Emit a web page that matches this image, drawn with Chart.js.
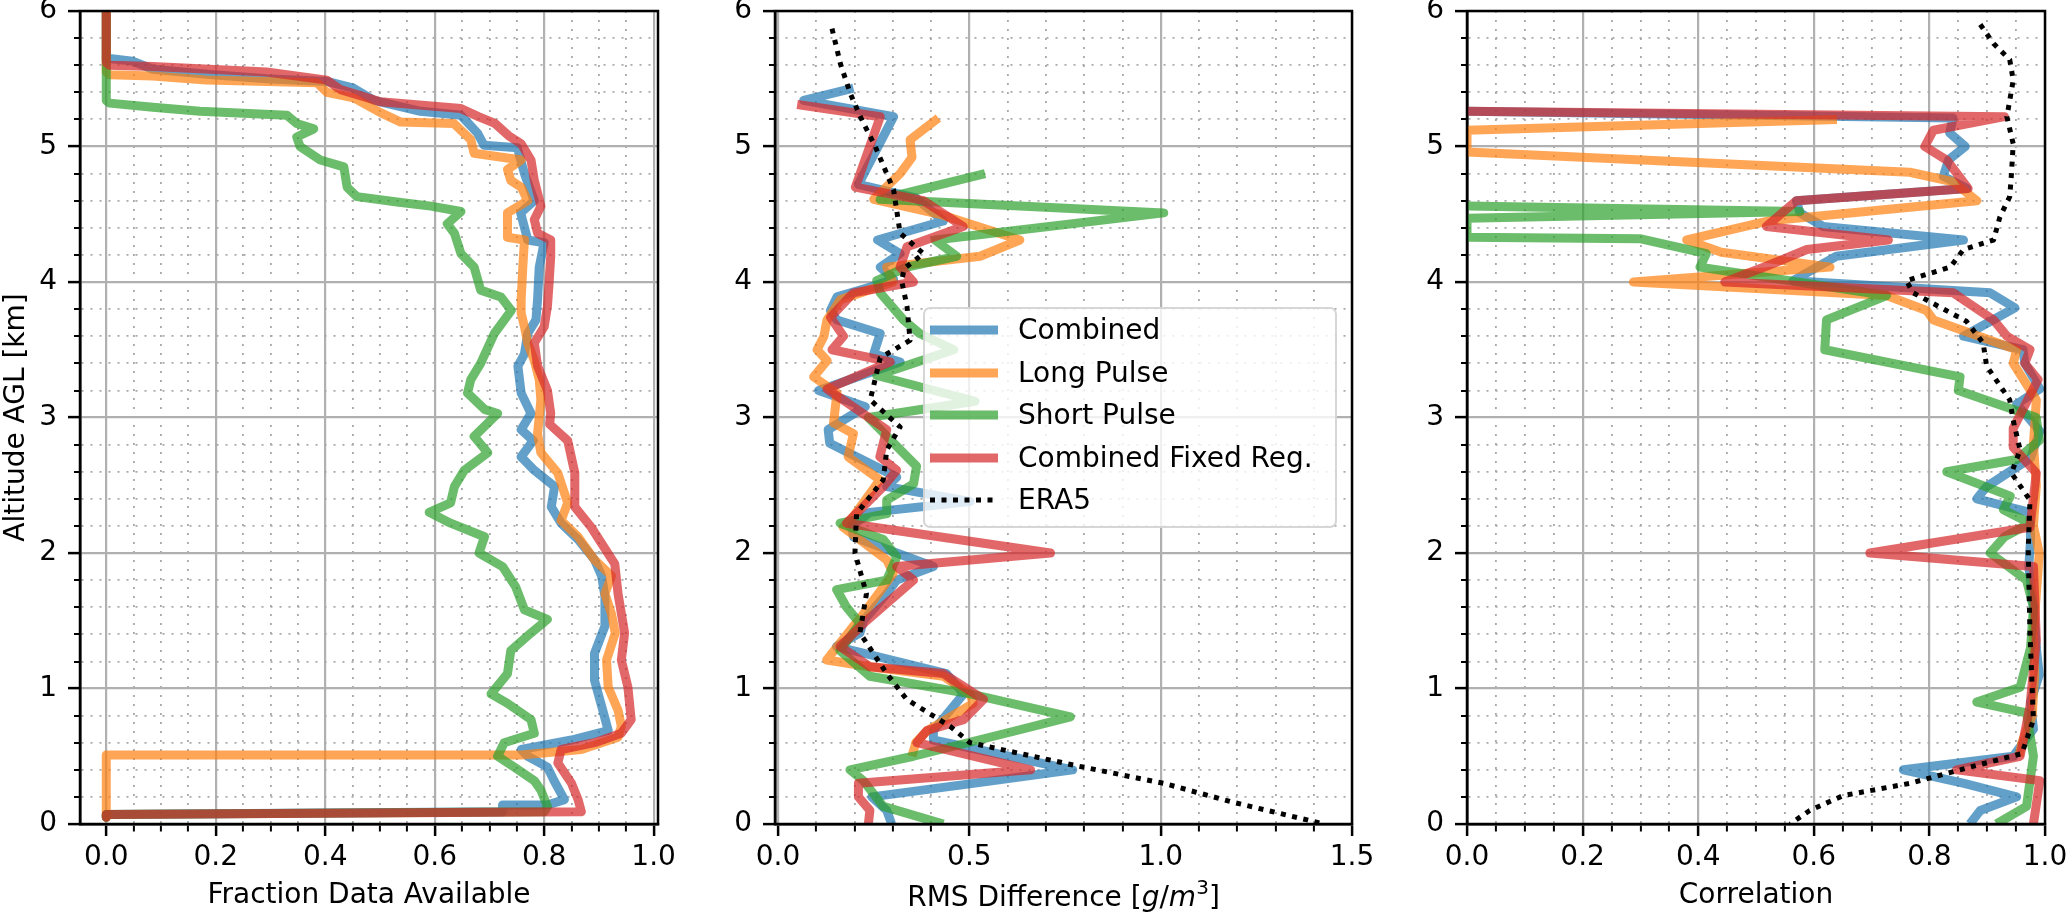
<!DOCTYPE html>
<html>
<head>
<meta charset="utf-8">
<script src="https://cdn.jsdelivr.net/npm/chart.js@4.4.1/dist/chart.umd.min.js"></script>
<style>
  body { margin: 0; background: #fff; font-family: "DejaVu Sans", sans-serif; }
  #page { position: relative; width: 2067px; height: 917px; overflow: hidden; }
  canvas { position: absolute; top: 0; }
  .legend-box { position: absolute; left: 923px; top: 307px; width: 414px; height: 221px; box-sizing: border-box;
                border: 2px solid rgba(204,204,204,0.8); border-radius: 7px; background: rgba(255,255,255,0.8); }
  .legend-item { position: absolute; left: 930px; width: 400px; height: 32px; font-size: 28px; line-height: 32px; color: #000; white-space: nowrap; }
  .legend-item svg { position: absolute; left: 0; top: 11px; }
  .legend-item span { position: absolute; left: 88px; top: 0; }
  .xlabel { position: absolute; top: 881px; text-align: center; font-size: 28px; line-height: 32px; color: #000; white-space: nowrap; }
</style>
</head>
<body>
<div id="page">
  <canvas id="fracChart" width="700" height="917" style="left:0"></canvas>
  <canvas id="rmsChart" width="700" height="917" style="left:700px"></canvas>
  <canvas id="corrChart" width="667" height="917" style="left:1400px"></canvas>
  <div class="xlabel" style="left:775px;width:577px">RMS Difference [<i>g</i>/<i>m</i><span style="font-size:20px;vertical-align:12px;line-height:0">3</span>]</div>
  <div class="legend-box"></div>
  <div id="legend"></div>
</div>
<script>
// tick labels
const altTicks = [0, 1, 2, 3, 4, 5, 6];
const fracTicks = [0.0, 0.2, 0.4, 0.6, 0.8, 1.0];
const rmsTicks = [0.0, 0.5, 1.0, 1.5];
const corrTicks = [0.0, 0.2, 0.4, 0.6, 0.8, 1.0];

const seriesNames = ['Combined', 'Long Pulse', 'Short Pulse', 'Combined Fixed Reg.', 'ERA5'];
const seriesColors = ['rgba(31,119,180,0.7)', 'rgba(255,127,14,0.7)', 'rgba(44,160,44,0.7)', 'rgba(214,39,40,0.7)', '#000'];

// Panel 1: fraction of data available
const fracAltCombined = [6.0, 5.65, 5.65, 5.63, 5.57, 5.53, 5.50, 5.48, 5.43, 5.34, 5.26, 5.23, 5.10, 5.01, 4.99, 4.80, 4.60, 4.51, 4.31, 4.29, 4.11, 3.87, 3.72, 3.62, 3.47, 3.38, 3.18, 3.03, 2.91, 2.83, 2.71, 2.61, 2.49, 2.34, 2.22, 2.10, 1.95, 1.83, 1.68, 1.46, 1.26, 1.06, 0.84, 0.69, 0.62, 0.55, 0.50, 0.42, 0.32, 0.18, 0.14, 0.14, 0.09, 0.07, 0.05];
const fracCombined = [0.0, 0.0, 0.006, 0.048, 0.085, 0.195, 0.293, 0.403, 0.452, 0.489, 0.574, 0.648, 0.678, 0.69, 0.751, 0.764, 0.782, 0.757, 0.77, 0.80, 0.791, 0.788, 0.785, 0.77, 0.764, 0.752, 0.758, 0.776, 0.758, 0.78, 0.758, 0.782, 0.819, 0.813, 0.831, 0.862, 0.892, 0.905, 0.911, 0.911, 0.892, 0.892, 0.907, 0.917, 0.85, 0.758, 0.77, 0.806, 0.818, 0.837, 0.806, 0.724, 0.724, 0.0, 0.0];
const fracAltLong = [6.0, 5.55, 5.53, 5.52, 5.49, 5.47, 5.40, 5.36, 5.25, 5.18, 5.17, 5.05, 4.95, 4.90, 4.83, 4.75, 4.70, 4.60, 4.51, 4.33, 4.31, 4.11, 3.87, 3.77, 3.67, 3.55, 3.42, 3.28, 3.13, 2.88, 2.74, 2.59, 2.37, 2.24, 2.12, 1.95, 1.83, 1.70, 1.55, 1.41, 1.21, 1.01, 0.84, 0.72, 0.64, 0.55, 0.51, 0.51, 0.07, 0.05];
const fracLong = [0.0, 0.0, 0.006, 0.085, 0.183, 0.385, 0.403, 0.452, 0.501, 0.538, 0.635, 0.666, 0.672, 0.758, 0.733, 0.739, 0.758, 0.77, 0.733, 0.733, 0.764, 0.761, 0.758, 0.758, 0.764, 0.77, 0.782, 0.791, 0.794, 0.788, 0.794, 0.825, 0.843, 0.831, 0.862, 0.892, 0.923, 0.911, 0.923, 0.93, 0.914, 0.917, 0.935, 0.941, 0.935, 0.868, 0.758, 0.0, 0.0, 0.0];
const fracAltShort = [6.0, 5.34, 5.32, 5.29, 5.26, 5.23, 5.17, 5.13, 5.07, 5.00, 4.90, 4.85, 4.70, 4.63, 4.59, 4.56, 4.52, 4.43, 4.36, 4.21, 4.11, 3.94, 3.89, 3.79, 3.62, 3.40, 3.28, 3.18, 3.06, 3.03, 2.86, 2.74, 2.61, 2.49, 2.37, 2.30, 2.22, 2.12, 2.00, 1.90, 1.75, 1.58, 1.51, 1.41, 1.28, 1.11, 0.96, 0.89, 0.77, 0.67, 0.60, 0.50, 0.42, 0.32, 0.25, 0.13, 0.09, 0.07, 0.05];
const fracShort = [0.0, 0.0, 0.006, 0.085, 0.171, 0.33, 0.348, 0.379, 0.348, 0.354, 0.391, 0.434, 0.44, 0.458, 0.531, 0.593, 0.648, 0.623, 0.636, 0.648, 0.672, 0.684, 0.721, 0.74, 0.709, 0.684, 0.666, 0.66, 0.691, 0.715, 0.672, 0.697, 0.654, 0.636, 0.629, 0.59, 0.629, 0.691, 0.681, 0.724, 0.748, 0.764, 0.806, 0.776, 0.739, 0.733, 0.703, 0.733, 0.776, 0.782, 0.727, 0.715, 0.745, 0.782, 0.794, 0.806, 0.80, 0.0, 0.0];
const fracAltFixed = [6.0, 5.62, 5.60, 5.59, 5.55, 5.49, 5.42, 5.33, 5.28, 5.22, 5.17, 5.08, 5.02, 4.90, 4.75, 4.56, 4.46, 4.36, 4.31, 4.19, 3.99, 3.82, 3.67, 3.55, 3.38, 3.20, 3.03, 2.95, 2.83, 2.59, 2.34, 2.19, 2.07, 1.92, 1.70, 1.41, 1.21, 1.01, 0.77, 0.67, 0.60, 0.55, 0.45, 0.30, 0.18, 0.09, 0.07, 0.05];
const fracFixed = [0.0, 0.0, 0.006, 0.085, 0.293, 0.403, 0.428, 0.501, 0.648, 0.68, 0.71, 0.735, 0.758, 0.776, 0.782, 0.794, 0.782, 0.788, 0.812, 0.812, 0.809, 0.806, 0.80, 0.782, 0.788, 0.806, 0.812, 0.81, 0.843, 0.856, 0.856, 0.886, 0.905, 0.929, 0.935, 0.947, 0.941, 0.953, 0.959, 0.941, 0.892, 0.831, 0.825, 0.85, 0.862, 0.868, 0.0, 0.0];

// Panel 2: RMS difference (g/m3)
const rmsAltCombined = [5.43, 5.34, 5.22, 4.72, 4.62, 4.45, 4.31, 4.21, 4.11, 4.02, 3.97, 3.89, 3.79, 3.72, 3.62, 3.47, 3.41, 3.20, 3.08, 2.91, 2.81, 2.56, 2.49, 2.38, 2.30, 2.20, 2.12, 2.00, 1.90, 1.80, 1.70, 1.50, 1.41, 1.31, 1.11, 0.96, 0.69, 0.62, 0.40, 0.30, 0.20, 0.10, 0.0];
const rmsCombined = [0.197, 0.067, 0.302, 0.21, 0.36, 0.432, 0.26, 0.319, 0.267, 0.302, 0.25, 0.154, 0.137, 0.154, 0.267, 0.25, 0.319, 0.106, 0.228, 0.131, 0.135, 0.31, 0.284, 0.502, 0.24, 0.192, 0.197, 0.31, 0.406, 0.31, 0.284, 0.223, 0.214, 0.153, 0.44, 0.485, 0.406, 0.406, 0.77, 0.51, 0.245, 0.284, 0.297];
const rmsAltLong = [5.21, 5.05, 4.92, 4.80, 4.61, 4.50, 4.31, 4.19, 4.11, 4.00, 3.87, 3.72, 3.60, 3.50, 3.42, 3.30, 3.18, 2.96, 2.88, 2.71, 2.54, 2.27, 2.19, 1.95, 1.85, 1.55, 1.46, 1.21, 1.16, 1.09, 0.96, 0.89, 0.69, 0.60, 0.50];
const rmsLong = [0.419, 0.345, 0.35, 0.319, 0.25, 0.423, 0.632, 0.528, 0.284, 0.30, 0.163, 0.128, 0.12, 0.102, 0.128, 0.093, 0.154, 0.145, 0.197, 0.183, 0.266, 0.197, 0.17, 0.284, 0.301, 0.223, 0.197, 0.127, 0.24, 0.432, 0.502, 0.51, 0.39, 0.36, 0.35];
const rmsAltShort = [4.80, 4.61, 4.51, 4.31, 4.19, 4.11, 4.01, 3.92, 3.72, 3.62, 3.50, 3.31, 3.12, 3.00, 2.74, 2.64, 2.51, 2.39, 2.29, 2.22, 2.10, 1.97, 1.80, 1.73, 1.60, 1.48, 1.28, 1.09, 0.96, 0.79, 0.69, 0.50, 0.40, 0.32, 0.13, 0.0];
const rmsShort = [0.541, 0.267, 1.008, 0.41, 0.467, 0.337, 0.258, 0.267, 0.328, 0.37, 0.459, 0.258, 0.515, 0.236, 0.327, 0.362, 0.354, 0.284, 0.284, 0.162, 0.275, 0.31, 0.284, 0.153, 0.179, 0.214, 0.162, 0.24, 0.502, 0.764, 0.624, 0.354, 0.188, 0.223, 0.275, 0.432];
const rmsAltFixed = [5.31, 5.22, 4.70, 4.60, 4.41, 4.26, 4.11, 4.00, 3.92, 3.74, 3.60, 3.50, 3.41, 3.21, 2.91, 2.71, 2.61, 2.49, 2.22, 2.00, 1.90, 1.80, 1.50, 1.31, 1.16, 1.11, 0.92, 0.77, 0.69, 0.60, 0.40, 0.30, 0.20, 0.10, 0.0];
const rmsFixed = [0.05, 0.267, 0.202, 0.38, 0.484, 0.337, 0.319, 0.354, 0.197, 0.137, 0.171, 0.141, 0.293, 0.128, 0.284, 0.266, 0.31, 0.275, 0.179, 0.712, 0.31, 0.354, 0.231, 0.162, 0.24, 0.432, 0.537, 0.485, 0.389, 0.363, 0.66, 0.21, 0.21, 0.24, 0.236];
const rmsAltEra = [5.87, 5.61, 5.39, 5.22, 5.00, 4.80, 4.68, 4.36, 4.21, 4.10, 4.01, 3.82, 3.57, 3.44, 3.13, 2.93, 2.76, 2.54, 2.29, 2.00, 1.70, 1.41, 1.11, 0.92, 0.72, 0.60, 0.43, 0.30, 0.16, 0.0];
const rmsEra = [0.141, 0.163, 0.189, 0.215, 0.254, 0.284, 0.302, 0.319, 0.38, 0.33, 0.323, 0.337, 0.345, 0.267, 0.241, 0.319, 0.284, 0.275, 0.205, 0.201, 0.231, 0.214, 0.284, 0.336, 0.45, 0.502, 0.78, 1.008, 1.19, 1.427];

// Panel 3: correlation
const corrAltCombined = [5.26, 5.21, 5.10, 5.00, 4.90, 4.78, 4.69, 4.60, 4.51, 4.41, 4.31, 4.19, 4.01, 3.92, 3.81, 3.60, 3.50, 3.40, 3.21, 3.10, 2.90, 2.70, 2.49, 2.40, 2.30, 2.10, 1.90, 1.60, 1.30, 1.10, 0.90, 0.70, 0.50, 0.40, 0.30, 0.20, 0.10, 0.0];
const corrCombined = [0.0, 0.841, 0.835, 0.862, 0.833, 0.824, 0.865, 0.57, 0.576, 0.616, 0.859, 0.639, 0.564, 0.905, 0.948, 0.859, 0.962, 0.965, 0.991, 0.951, 0.991, 0.975, 0.899, 0.882, 0.974, 0.975, 0.972, 0.98, 0.985, 0.99, 0.975, 0.98, 0.945, 0.755, 0.86, 0.951, 0.888, 0.87];
const corrAltLong = [5.20, 5.12, 4.96, 4.81, 4.74, 4.60, 4.45, 4.31, 4.22, 4.11, 4.00, 3.90, 3.79, 3.72, 3.50, 3.40, 3.13, 2.80, 2.50, 2.20, 2.00, 1.70, 1.40, 1.10, 0.80, 0.60, 0.50];
const corrLong = [0.64, 0.0, 0.0, 0.766, 0.841, 0.882, 0.52, 0.38, 0.44, 0.628, 0.288, 0.726, 0.795, 0.807, 0.951, 0.945, 0.985, 0.98, 0.985, 0.98, 0.99, 0.985, 0.98, 0.982, 0.978, 0.96, 0.955];
const corrAltShort = [4.56, 4.52, 4.47, 4.33, 4.32, 4.21, 4.11, 3.90, 3.72, 3.50, 3.30, 3.20, 3.00, 2.83, 2.69, 2.60, 2.42, 2.32, 2.22, 2.12, 2.00, 1.80, 1.60, 1.30, 1.01, 0.90, 0.82, 0.50, 0.13, 0.0];
const corrShort = [0.0, 0.576, 0.0, 0.0, 0.299, 0.414, 0.403, 0.726, 0.622, 0.619, 0.853, 0.85, 0.985, 0.99, 0.951, 0.83, 0.94, 0.928, 0.974, 0.93, 0.905, 0.968, 0.98, 0.975, 0.957, 0.882, 0.968, 0.98, 0.968, 0.916];
const corrAltFixed = [5.26, 5.22, 5.12, 5.00, 4.90, 4.69, 4.60, 4.41, 4.31, 4.24, 4.12, 4.00, 3.92, 3.72, 3.60, 3.50, 3.40, 3.28, 2.92, 2.78, 2.59, 2.19, 2.00, 1.90, 1.36, 0.87, 0.50, 0.40, 0.32, 0.0];
const corrFixed = [0.0, 0.93, 0.807, 0.792, 0.83, 0.867, 0.57, 0.518, 0.729, 0.588, 0.52, 0.446, 0.841, 0.911, 0.934, 0.974, 0.965, 0.988, 0.945, 0.945, 0.985, 0.974, 0.697, 0.98, 0.985, 0.974, 0.957, 0.847, 0.991, 0.98];
const corrAltEra = [5.90, 5.76, 5.64, 5.49, 5.34, 5.22, 5.02, 4.80, 4.63, 4.48, 4.31, 4.24, 4.11, 4.01, 3.92, 3.71, 3.55, 3.38, 3.13, 2.98, 2.76, 2.59, 2.39, 2.02, 1.41, 0.77, 0.52, 0.40, 0.30, 0.21, 0.10, 0.0];
const corrEra = [0.888, 0.911, 0.939, 0.945, 0.939, 0.934, 0.945, 0.942, 0.939, 0.922, 0.911, 0.859, 0.836, 0.76, 0.772, 0.864, 0.893, 0.899, 0.939, 0.945, 0.957, 0.942, 0.974, 0.971, 0.974, 0.98, 0.96, 0.853, 0.766, 0.651, 0.593, 0.559];

const FONT = 'DejaVu Sans';

function profile(vals, alts) {
    return vals.map(function (v, i) { return {x: v, y: alts[i]}; });
}

// majors plus evenly spaced minor ticks between them
function withMinors(majors, parts) {
    const out = [];
    for (let i = 0; i < majors.length - 1; i++) {
        const step = (majors[i + 1] - majors[i]) / parts;
        for (let k = 0; k < parts; k++) out.push(+(majors[i] + k * step).toFixed(6));
    }
    out.push(majors[majors.length - 1]);
    return out;
}

function axisOptions(isX, majors, parts, min, max, fit, title, digits) {
    const all = withMinors(majors, parts);
    const isMajor = function (v) { return majors.some(function (m) { return Math.abs(m - v) < 1e-6; }); };
    const onMajor = function (c) { return c.tick && isMajor(c.tick.value); };
    return {
        type: 'linear',
        position: isX ? 'bottom' : 'left',
        min: min,
        max: max,
        bounds: 'data',
        afterBuildTicks: function (s) { s.ticks = all.map(function (v) { return {value: v}; }); },
        afterFit: function (s) {
            if (isX) { s.height = fit; s.paddingLeft = 0; s.paddingRight = 0; }
            else { s.width = fit; s.paddingTop = 0; s.paddingBottom = 0; }
        },
        ticks: {
            autoSkip: false,
            maxRotation: 0,
            minRotation: 0,
            padding: isX ? 5 : 11,
            color: '#000',
            font: {family: FONT, size: 28},
            callback: function (v) { return isMajor(v) ? Number(v).toFixed(digits) : ''; }
        },
        grid: {
            color: function (c) { return onMajor(c) ? '#b0b0b0' : '#a8a8a8'; },
            lineWidth: function (c) { return onMajor(c) ? 2.2 : 1.8; },
            tickColor: '#000',
            tickWidth: function (c) { return onMajor(c) ? 2.5 : 2; },
            tickLength: 12,
            tickBorderDash: function (c) { return onMajor(c) ? [] : (isX ? [6, 100] : [0, 6, 6, 100]); }
        },
        border: {
            display: true,
            color: '#000',
            width: 2.5,
            dash: function (c) { return (c.tick && !isMajor(c.tick.value)) ? [2, 7] : []; }
        },
        title: title ? {
            display: true,
            text: title,
            color: '#000',
            font: {family: FONT, size: 28, lineHeight: 1.2},
            padding: isX ? {top: 0, bottom: 4} : {top: 0, bottom: 0}
        } : {display: false}
    };
}

// black box around the plotting area (matplotlib spines)
const framePlugin = {
    id: 'frame',
    afterDatasetsDraw: function (chart) {
        const a = chart.chartArea;
        const c = chart.ctx;
        c.save();
        c.strokeStyle = '#000';
        c.lineWidth = 2.5;
        c.setLineDash([]);
        c.strokeRect(a.left, a.top, a.right - a.left, a.bottom - a.top);
        c.restore();
    }
};

function renderPanel(id, series, xCfg, yWidth, padRight, yTitle) {
    const ctx = document.getElementById(id).getContext('2d');
    const datasets = series.map(function (s, i) {
        const isEra = s.idx === 4;
        return {
            label: seriesNames[s.idx],
            data: profile(s.vals, s.alts),
            showLine: true,
            borderColor: seriesColors[s.idx],
            borderWidth: isEra ? 5 : 9,
            borderDash: isEra ? [5, 6.5] : [],
            borderJoinStyle: 'round',
            borderCapStyle: 'butt',
            pointRadius: 0,
            pointHoverRadius: 0,
            tension: 0,
            clip: 0,
            order: series.length - i
        };
    });
    return new Chart(ctx, {
        type: 'scatter',
        data: {datasets: datasets},
        options: {
            responsive: false,
            animation: false,
            devicePixelRatio: 1,
            events: [],
            layout: {padding: {top: 11, right: padRight, left: 0, bottom: 0}},
            plugins: {legend: {display: false}, tooltip: {enabled: false}},
            scales: {
                x: axisOptions(true, xCfg.ticks, xCfg.parts, xCfg.min, xCfg.max, 93, xCfg.title, 1),
                y: axisOptions(false, altTicks, 5, 0, 6, yWidth, yTitle, 0)
            }
        },
        plugins: [framePlugin]
    });
}

renderPanel('fracChart', [
    {idx: 0, vals: fracCombined, alts: fracAltCombined},
    {idx: 1, vals: fracLong, alts: fracAltLong},
    {idx: 2, vals: fracShort, alts: fracAltShort},
    {idx: 3, vals: fracFixed, alts: fracAltFixed}
], {ticks: fracTicks, parts: 4, min: -0.048, max: 1.008, title: 'Fraction Data Available'}, 80, 42, 'Altitude AGL [km]');

renderPanel('rmsChart', [
    {idx: 0, vals: rmsCombined, alts: rmsAltCombined},
    {idx: 1, vals: rmsLong, alts: rmsAltLong},
    {idx: 2, vals: rmsShort, alts: rmsAltShort},
    {idx: 3, vals: rmsFixed, alts: rmsAltFixed},
    {idx: 4, vals: rmsEra, alts: rmsAltEra}
], {ticks: rmsTicks, parts: 5, min: -0.008, max: 1.5, title: null}, 75, 48, null);

renderPanel('corrChart', [
    {idx: 0, vals: corrCombined, alts: corrAltCombined},
    {idx: 1, vals: corrLong, alts: corrAltLong},
    {idx: 2, vals: corrShort, alts: corrAltShort},
    {idx: 3, vals: corrFixed, alts: corrAltFixed},
    {idx: 4, vals: corrEra, alts: corrAltEra}
], {ticks: corrTicks, parts: 4, min: 0, max: 1, title: 'Correlation'}, 67, 22, null);

// legend inside the middle panel
const legendEl = document.getElementById('legend');
seriesNames.forEach(function (name, i) {
    const item = document.createElement('div');
    item.className = 'legend-item';
    item.style.top = (330 + 42.5 * i - 16) + 'px';
    const isEra = i === 4;
    item.innerHTML = '<svg width="68" height="10"><line x1="0" y1="5" x2="68" y2="5" stroke="' + seriesColors[i] +
        '" stroke-width="' + (isEra ? 5 : 9) + '"' + (isEra ? ' stroke-dasharray="5 6.5"' : '') + '/></svg>' +
        '<span>' + name + '</span>';
    legendEl.appendChild(item);
});
</script>
</body>
</html>
